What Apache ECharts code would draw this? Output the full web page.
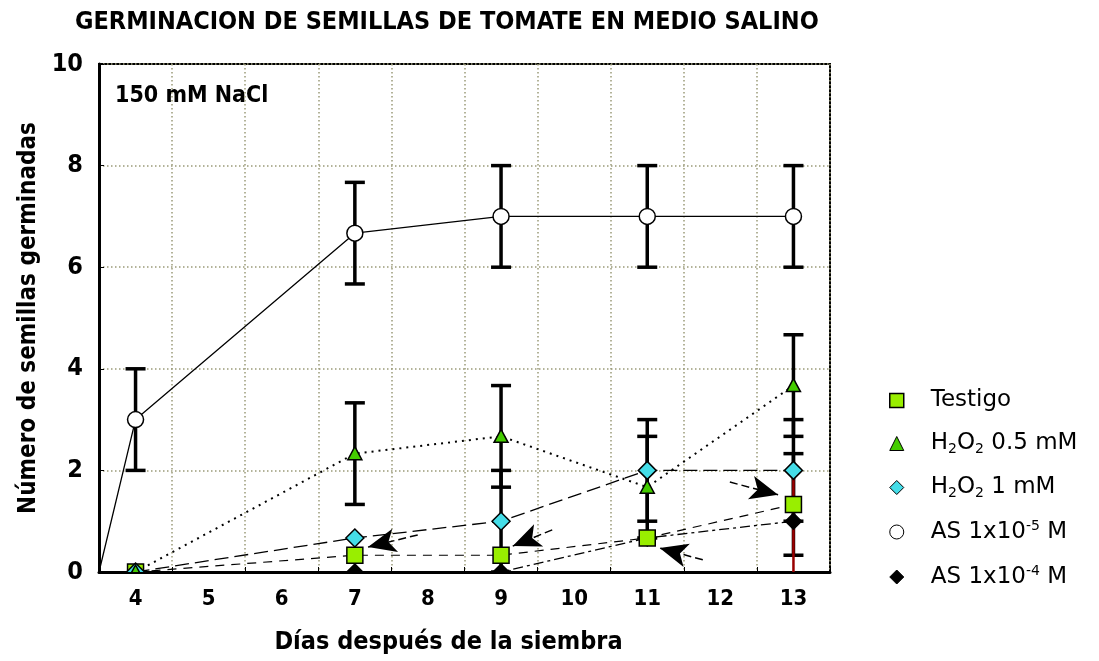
<!DOCTYPE html>
<html>
<head>
<meta charset="utf-8">
<style>
  html, body { margin: 0; padding: 0; background: #fff; }
  #chart { width: 1099px; height: 661px; }
</style>
<script src="https://cdn.jsdelivr.net/npm/echarts@6/dist/echarts.min.js"></script>
</head>
<body>
<div id="chart"></div>
<script>
// Days after sowing at which germination was counted
const days = [4, 7, 9, 11, 13];
// Axis tick labels (one band per day, 4 to 13)
const dayTicks = ['4', '5', '6', '7', '8', '9', '10', '11', '12', '13'];

// Mean number of germinated seeds per treatment
const testigo = [0, 0.33, 0.33, 0.67, 1.33];
const h2o2Half = [0, 2.33, 2.67, 1.67, 3.67];
const h2o2One = [0, 0.67, 1, 2, 2];
const as5 = [3, 6.67, 7, 7, 7];
const as4 = [0, 0, 0, 0.67, 1];

// Standard deviations (0 = no bar drawn)
const testigoErr = [0, 0, 0, 0, 1];
const h2o2HalfErr = [0, 1, 1, 1, 1];
const h2o2OneErr = [0, 0, 1, 1, 1];
const as5Err = [1, 1, 1, 1, 1];
const as4Err = [0, 0, 0, 0, 1];

// The AS 1x10-5 M curve starts from the origin corner of the plot
const as5Start = [3.5, 0];

// Pointer arrows drawn on the plot: [tail, tip] in day / seed units
const pointerArrows = [
  [[7.86, 0.73], [7.18, 0.49]],
  [[9.70, 0.83], [9.16, 0.51]],
  [[11.76, 0.24], [11.17, 0.47]],
  [[12.13, 1.77], [12.79, 1.52]]
];

const NARROW = "'Liberation Sans Narrow', 'Arial Narrow', 'DejaVu Sans Condensed', sans-serif";
const LEGEND_FONT = "'DejaVu Sans', 'Liberation Sans', sans-serif";

const pairs = (vals) => days.map((d, i) => [d, vals[i]]);
const withErr = (vals, errs) => days.map((d, i) => [d, vals[i], errs[i]]);

function lineSeries(name, data, lineType, width) {
  return {
    name: name,
    type: 'line',
    xAxisIndex: 1,
    data: data,
    showSymbol: false,
    symbol: 'none',
    clip: true,
    z: 2,
    silent: true,
    animation: false,
    lineStyle: { color: '#000', width: width || 1, type: lineType, cap: 'butt' }
  };
}

function errorSeries(data, color, width, caps, z) {
  return {
    type: 'custom',
    xAxisIndex: 1,
    data: data,
    clip: true,
    z: z || 3,
    silent: true,
    animation: false,
    renderItem: function (params, api) {
      const x = api.value(0), y = api.value(1), e = api.value(2);
      if (!e) return null;
      const hi = api.coord([x, y + e]);
      const lo = api.coord([x, y - e]);
      const style = { stroke: color, lineWidth: width };
      const children = [
        { type: 'line', shape: { x1: hi[0], y1: hi[1], x2: lo[0], y2: lo[1] }, style: style }
      ];
      if (caps) {
        children.push({ type: 'line', shape: { x1: hi[0] - 10, y1: hi[1], x2: hi[0] + 10, y2: hi[1] }, style: style });
        children.push({ type: 'line', shape: { x1: lo[0] - 10, y1: lo[1], x2: lo[0] + 10, y2: lo[1] }, style: style });
      }
      return { type: 'group', children: children };
    }
  };
}

// Marker outlines around a centre point
const shapes = {
  square: (c) => [[c[0] - 8, c[1] - 8], [c[0] + 8, c[1] - 8], [c[0] + 8, c[1] + 8], [c[0] - 8, c[1] + 8]],
  triangle: (c) => [[c[0], c[1] - 7], [c[0] + 7, c[1] + 6], [c[0] - 7, c[1] + 6]],
  diamond: (c) => [[c[0], c[1] - 9], [c[0] + 9, c[1]], [c[0], c[1] + 9], [c[0] - 9, c[1]]],
  smallDiamond: (c) => [[c[0], c[1] - 8], [c[0] + 8, c[1]], [c[0], c[1] + 8], [c[0] - 8, c[1]]]
};

function markerSeries(data, shape, fill, stroke) {
  return {
    type: 'custom',
    xAxisIndex: 1,
    data: data,
    clip: true,
    z: 5,
    silent: true,
    animation: false,
    renderItem: function (params, api) {
      const c = api.coord([api.value(0), api.value(1)]);
      if (shape === 'circle') {
        return { type: 'circle', shape: { cx: c[0], cy: c[1], r: 8 }, style: { fill: fill, stroke: stroke, lineWidth: 1.5 } };
      }
      return { type: 'polygon', shape: { points: shapes[shape](c) }, style: { fill: fill, stroke: stroke, lineWidth: 1.5 } };
    }
  };
}

const COLORS = {
  testigo: '#99ee00',
  h2o2Half: '#44cc00',
  h2o2One: '#44dde8'
};

const names = {
  testigo: 'Testigo',
  h2o2Half: 'H2O2 0.5 mM',
  h2o2One: 'H2O2 1 mM',
  as5: 'AS 1x10-5 M',
  as4: 'AS 1x10-4 M'
};

const legendRich = {
  'Testigo': '{sp|}{t|Testigo}',
  'H2O2 0.5 mM': '{sp|}{t|H}{sub|2}{t|O}{sub|2}{t| 0.5 mM}',
  'H2O2 1 mM': '{sp|}{t|H}{sub|2}{t|O}{sub|2}{t| 1 mM}',
  'AS 1x10-5 M': '{sp|}{t|AS 1x10}{sup|-5}{t| M}',
  'AS 1x10-4 M': '{sp|}{t|AS 1x10}{sup|-4}{t| M}'
};

const testigoLine = lineSeries(names.testigo, pairs(testigo), [9, 7], 1.2);
testigoLine.markLine = {
  silent: true,
  symbol: ['none', 'arrow'],
  symbolSize: [18, 28],
  label: { show: false },
  lineStyle: { color: '#000', width: 1.5, type: [8, 4] },
  itemStyle: { color: '#000' },
  data: pointerArrows.map((a) => [{ coord: a[0] }, { coord: a[1] }])
};

const option = {
  backgroundColor: '#fff',
  animation: false,
  title: {
    text: 'GERMINACION DE SEMILLAS DE TOMATE EN MEDIO SALINO',
    left: 70,
    top: 5,
    textStyle: { fontFamily: NARROW, fontWeight: 'bold', fontSize: 25, color: '#000' }
  },
  graphic: [
    {
      type: 'text',
      left: 115,
      top: 85,
      style: { text: '150 mM NaCl', font: 'bold 23px ' + NARROW, fill: '#000' }
    }
  ],
  grid: {
    left: 99, right: 269, top: 64, bottom: 89,
    show: true, borderColor: '#000', borderWidth: 2, backgroundColor: 'transparent'
  },
  legend: {
    orient: 'vertical',
    left: 884,
    top: 384,
    itemWidth: 14,
    itemHeight: 14,
    itemGap: 19,
    selectedMode: false,
    data: [
      { name: names.testigo, icon: 'rect', itemStyle: { color: COLORS.testigo, borderColor: '#000', borderWidth: 1.5 } },
      { name: names.h2o2Half, icon: 'triangle', itemStyle: { color: COLORS.h2o2Half, borderColor: '#000', borderWidth: 1 } },
      { name: names.h2o2One, icon: 'diamond', itemStyle: { color: COLORS.h2o2One, borderColor: '#000', borderWidth: 1 } },
      { name: names.as5, icon: 'circle', itemStyle: { color: '#fff', borderColor: '#000', borderWidth: 1 } },
      { name: names.as4, icon: 'diamond', itemStyle: { color: '#000', borderColor: '#000', borderWidth: 1 } }
    ],
    formatter: (n) => legendRich[n],
    textStyle: {
      color: '#000',
      rich: {
        sp: { width: 22 },
        t: { fontFamily: LEGEND_FONT, fontSize: 23, lineHeight: 30, color: '#000' },
        sub: { fontFamily: LEGEND_FONT, fontSize: 14, lineHeight: 14, padding: [11, 0, 0, 0], color: '#000' },
        sup: { fontFamily: LEGEND_FONT, fontSize: 14, lineHeight: 14, padding: [0, 0, 12, 0], color: '#000' }
      }
    }
  },
  xAxis: [
    {
      type: 'category',
      data: dayTicks,
      boundaryGap: true,
      position: 'bottom',
      axisLine: { show: true, lineStyle: { color: '#000', width: 3 } },
      axisTick: { show: true, inside: true, length: 5, lineStyle: { color: '#000', width: 1 } },
      splitLine: { show: true, lineStyle: { color: '#9a9a78', type: [1.5, 2.5], width: 1.5 } },
      axisLabel: { color: '#000', fontFamily: NARROW, fontWeight: 'bold', fontSize: 22, margin: 16 },
      name: 'Días después de la siembra',
      nameLocation: 'middle',
      nameGap: 58,
      nameTextStyle: { color: '#000', fontFamily: NARROW, fontWeight: 'bold', fontSize: 25, padding: [0, 32, 0, 0] }
    },
    { type: 'value', min: 3.5, max: 13.5, show: false }
  ],
  yAxis: {
    type: 'value',
    min: 0,
    max: 10,
    interval: 2,
    axisLine: { show: true, lineStyle: { color: '#000', width: 3 } },
    axisTick: { show: true, inside: true, length: 5, lineStyle: { color: '#000' } },
    splitLine: { show: true, lineStyle: { color: '#9a9a78', type: [1.5, 2.5], width: 1.5 } },
    axisLabel: { color: '#000', fontFamily: NARROW, fontWeight: 'bold', fontSize: 25, margin: 16 },
    name: 'Número de semillas germinadas',
    nameLocation: 'middle',
    nameGap: 49,
    nameTextStyle: { color: '#000', fontFamily: NARROW, fontWeight: 'bold', fontSize: 24 }
  },
  series: [
    lineSeries(names.as5, [as5Start].concat(pairs(as5)), 'solid', 1.3),
    lineSeries(names.h2o2Half, pairs(h2o2Half), [2, 5], 2),
    lineSeries(names.h2o2One, pairs(h2o2One), [14, 6], 1.3),
    testigoLine,
    lineSeries(names.as4, pairs(as4), [10, 4, 3, 4], 1.3),

    errorSeries(withErr(as5, as5Err), '#000', 3.5, true),
    errorSeries(withErr(h2o2Half, h2o2HalfErr), '#000', 3.5, true),
    errorSeries(withErr(h2o2One, h2o2OneErr), '#000', 3.5, true),
    errorSeries(withErr(testigo, testigoErr), '#000', 3.5, true),
    errorSeries(withErr(as4, as4Err), '#990000', 2.5, false, 4),

    markerSeries(pairs(as4), 'smallDiamond', '#000', '#000'),
    markerSeries(pairs(testigo), 'square', COLORS.testigo, '#000'),
    markerSeries(pairs(h2o2One), 'diamond', COLORS.h2o2One, '#000'),
    markerSeries(pairs(h2o2Half), 'triangle', COLORS.h2o2Half, '#000'),
    markerSeries(pairs(as5), 'circle', '#fff', '#000')
  ]
};

const chart = echarts.init(document.getElementById('chart'), null, { renderer: 'canvas' });
chart.setOption(option);
</script>
</body>
</html>
